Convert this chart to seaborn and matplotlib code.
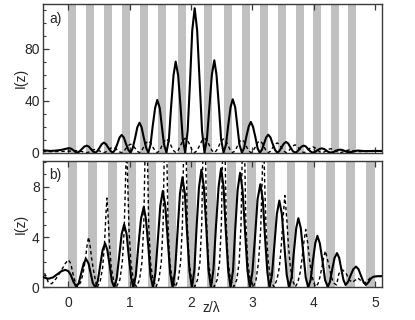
import matplotlib

matplotlib.use("Agg")
import matplotlib.pyplot as plt
import seaborn as sns
from matplotlib.ticker import MultipleLocator


# layer positions (left edge of each grey layer), in units of z/lambda
TOP_STRIPES = [0.0, 0.293, 0.575, 0.868, 1.161, 1.466, 1.796, 2.215, 2.541, 2.838,
               3.127, 3.425, 3.713, 3.995, 4.284, 4.565]
TOP_STRIPE_WIDTH = 0.13
BOTTOM_STRIPES = [0.0, 0.324, 0.647, 0.971, 1.294, 1.618, 1.942, 2.265, 2.589, 2.912,
                  3.236, 3.560, 3.883, 4.207, 4.530, 4.854]
BOTTOM_STRIPE_WIDTH = 0.14

# (z, I)
TOP_SOLID = [
    (-0.42, 1.8), (-0.35, 1.5), (-0.29, 1.3), (-0.2, 1.6), (-0.13, 2.0), (-0.06, 2.7), (0.0, 3.4),
    (0.04, 3.2), (0.08, 2.0), (0.11, 0.8), (0.14, 0.0),
    (0.18, 0.8), (0.22, 2.7), (0.26, 4.6), (0.30, 5.4), (0.335, 4.6), (0.37, 2.7), (0.405, 0.8), (0.44, 0.0),
    (0.475, 1.2), (0.51, 3.9), (0.545, 6.5), (0.58, 7.7), (0.615, 6.5), (0.65, 3.9), (0.69, 1.2), (0.725, 0.0),
    (0.76, 2.0), (0.80, 6.8), (0.835, 11.6), (0.87, 13.6), (0.905, 11.6), (0.94, 6.8), (0.98, 2.0), (1.015, 0.0),
    (1.05, 3.5), (1.09, 11.5), (1.125, 19.5), (1.16, 23.0), (1.195, 19.5), (1.23, 11.5), (1.27, 3.5), (1.305, 0.0),
    (1.34, 6.1), (1.375, 20.2), (1.415, 34.4), (1.45, 40.5), (1.49, 34.4), (1.525, 20.2), (1.56, 6.1), (1.60, 0.0),
    (1.64, 10.5), (1.675, 35.0), (1.715, 59.5), (1.75, 70.0), (1.79, 59.5), (1.83, 35.0), (1.865, 10.5), (1.905, 0.0),
    (1.945, 16.6), (1.985, 55.5), (2.02, 94.0), (2.06, 111.0), (2.10, 94.0), (2.14, 55.5), (2.18, 16.6), (2.22, 0.0),
    (2.26, 10.6), (2.30, 35.5), (2.34, 60.0), (2.38, 71.0), (2.415, 60.0), (2.455, 35.5), (2.49, 10.6), (2.53, 0.0),
    (2.57, 6.1), (2.605, 20.5), (2.645, 35.0), (2.68, 41.0), (2.72, 35.0), (2.755, 20.5), (2.79, 6.1), (2.83, 0.0),
    (2.865, 3.5), (2.90, 11.8), (2.94, 20.0), (2.975, 23.6), (3.01, 20.0), (3.05, 11.8), (3.085, 3.5), (3.12, 0.0),
    (3.155, 2.1), (3.19, 6.9), (3.225, 11.7), (3.26, 13.8), (3.295, 11.7), (3.33, 6.9), (3.37, 2.1), (3.405, 0.0),
    (3.44, 1.2), (3.475, 4.1), (3.515, 7.0), (3.55, 8.2), (3.585, 7.0), (3.62, 4.1), (3.66, 1.2), (3.695, 0.0),
    (3.73, 0.8), (3.765, 2.7), (3.80, 4.6), (3.84, 5.4), (3.875, 4.6), (3.91, 2.7), (3.95, 0.8), (3.985, 0.0),
    (4.02, 0.5), (4.055, 1.7), (4.095, 2.8), (4.13, 3.3), (4.17, 2.8), (4.205, 1.7), (4.24, 0.5), (4.28, 0.1),
    (4.32, 0.4), (4.355, 1.2), (4.39, 2.0), (4.43, 2.3), (4.47, 2.0), (4.505, 1.3), (4.54, 0.6), (4.58, 0.3),
    (4.63, 0.6), (4.68, 1.3), (4.72, 1.6), (4.77, 1.4), (4.82, 1.2), (4.90, 1.2), (5.00, 1.3), (5.12, 1.3),
]

TOP_DASHED = [
    (-0.42, 0.9), (-0.25, 0.7), (-0.1, 0.9), (0.0, 1.1), (0.05, 1.3), (0.10, 1.45), (0.15, 1.5),
    (0.19, 1.3), (0.23, 0.75), (0.265, 0.25), (0.30, 0.0),
    (0.335, 0.4), (0.37, 1.25), (0.405, 2.1), (0.44, 2.5), (0.475, 2.1), (0.51, 1.25), (0.545, 0.4), (0.58, 0.0),
    (0.615, 0.6), (0.65, 2.0), (0.69, 3.4), (0.725, 4.0), (0.76, 3.4), (0.80, 2.0), (0.835, 0.6), (0.87, 0.0),
    (0.905, 1.0), (0.94, 3.25), (0.98, 5.5), (1.015, 6.5), (1.05, 5.5), (1.09, 3.25), (1.125, 1.0), (1.16, 0.0),
    (1.195, 1.35), (1.23, 4.5), (1.27, 7.65), (1.305, 9.0), (1.34, 7.65), (1.375, 4.5), (1.415, 1.35), (1.45, 0.0),
    (1.49, 1.6), (1.525, 5.25), (1.565, 8.9), (1.60, 10.5), (1.64, 8.9), (1.675, 5.25), (1.715, 1.6), (1.75, 0.0),
    (1.79, 1.65), (1.83, 5.5), (1.865, 9.35), (1.905, 11.0), (1.945, 9.35), (1.985, 5.5), (2.02, 1.65), (2.06, 0.0),
    (2.10, 1.65), (2.14, 5.5), (2.18, 9.35), (2.22, 11.0), (2.26, 9.35), (2.30, 5.5), (2.34, 1.65), (2.38, 0.0),
    (2.415, 1.6), (2.455, 5.25), (2.49, 8.9), (2.53, 10.5), (2.57, 8.9), (2.605, 5.25), (2.645, 1.6), (2.68, 0.0),
    (2.72, 1.5), (2.755, 5.0), (2.79, 8.5), (2.83, 10.0), (2.865, 8.5), (2.90, 5.0), (2.94, 1.5), (2.975, 0.0),
    (3.01, 1.35), (3.05, 4.5), (3.085, 7.65), (3.12, 9.0), (3.155, 7.65), (3.19, 4.5), (3.225, 1.35), (3.26, 0.0),
    (3.295, 1.1), (3.33, 3.75), (3.37, 6.4), (3.405, 7.5), (3.44, 6.4), (3.475, 3.75), (3.515, 1.1), (3.55, 0.0),
    (3.585, 0.9), (3.62, 3.0), (3.66, 5.1), (3.695, 6.0), (3.73, 5.1), (3.765, 3.0), (3.80, 0.9), (3.84, 0.0),
    (3.875, 0.7), (3.91, 2.25), (3.95, 3.8), (3.985, 4.5), (4.02, 3.8), (4.055, 2.25), (4.095, 0.7), (4.13, 0.0),
    (4.17, 0.45), (4.205, 1.5), (4.24, 2.55), (4.28, 3.0), (4.32, 2.55), (4.355, 1.5), (4.39, 0.5), (4.43, 0.1),
    (4.47, 0.4), (4.505, 1.1), (4.54, 1.7), (4.58, 2.0), (4.62, 1.8), (4.66, 1.3), (4.70, 0.9), (4.75, 0.8),
    (4.85, 0.9), (5.0, 1.0), (5.12, 1.0),
]

BOTTOM_SOLID = [
    (-0.42, 0.85), (-0.37, 0.75), (-0.32, 0.70), (-0.25, 0.8), (-0.18, 1.05), (-0.11, 1.3), (-0.05, 1.4),
    (0.0, 1.3), (0.04, 1.0), (0.08, 0.5), (0.13, 0.05),
    (0.17, 0.35), (0.21, 1.13), (0.25, 1.9), (0.29, 2.26), (0.33, 1.9), (0.365, 1.13), (0.40, 0.35), (0.44, 0.0),
    (0.48, 0.5), (0.52, 1.75), (0.56, 3.0), (0.60, 3.5), (0.635, 3.0), (0.675, 1.75), (0.71, 0.5), (0.75, 0.0),
    (0.79, 0.75), (0.83, 2.5), (0.87, 4.25), (0.91, 5.0), (0.95, 4.25), (0.985, 2.5), (1.025, 0.75), (1.06, 0.0),
    (1.10, 0.95), (1.14, 3.2), (1.185, 5.45), (1.23, 6.4), (1.265, 5.45), (1.305, 3.2), (1.34, 0.95), (1.38, 0.0),
    (1.42, 1.15), (1.46, 3.8), (1.50, 6.5), (1.54, 7.66), (1.58, 6.5), (1.62, 3.8), (1.66, 1.15), (1.70, 0.0),
    (1.74, 1.3), (1.78, 4.4), (1.82, 7.45), (1.86, 8.75), (1.90, 7.45), (1.935, 4.4), (1.975, 1.3), (2.015, 0.0),
    (2.055, 1.4), (2.09, 4.7), (2.13, 7.95), (2.17, 9.35), (2.21, 7.95), (2.25, 4.7), (2.285, 1.4), (2.325, 0.0),
    (2.365, 1.4), (2.405, 4.7), (2.45, 8.0), (2.49, 9.45), (2.53, 8.0), (2.565, 4.7), (2.605, 1.4), (2.645, 0.0),
    (2.685, 1.35), (2.72, 4.55), (2.76, 7.75), (2.80, 9.1), (2.84, 7.75), (2.88, 4.55), (2.92, 1.35), (2.96, 0.0),
    (3.00, 1.2), (3.045, 4.1), (3.085, 7.0), (3.13, 8.2), (3.17, 7.0), (3.205, 4.1), (3.245, 1.2), (3.28, 0.0),
    (3.32, 1.0), (3.36, 3.45), (3.40, 5.85), (3.44, 6.9), (3.48, 5.85), (3.52, 3.45), (3.56, 1.0), (3.60, 0.0),
    (3.64, 0.8), (3.675, 2.75), (3.715, 4.7), (3.75, 5.5), (3.79, 4.7), (3.83, 2.75), (3.87, 0.8), (3.91, 0.0),
    (3.95, 0.6), (3.985, 2.05), (4.025, 3.5), (4.06, 4.1), (4.10, 3.5), (4.145, 2.05), (4.185, 0.6), (4.23, 0.05),
    (4.265, 0.45), (4.30, 1.4), (4.34, 2.35), (4.38, 2.73), (4.415, 2.35), (4.45, 1.45), (4.485, 0.6), (4.52, 0.2),
    (4.56, 0.45), (4.60, 0.95), (4.645, 1.45), (4.69, 1.66), (4.73, 1.45), (4.77, 0.95), (4.81, 0.45), (4.85, 0.2),
    (4.89, 0.4), (4.93, 0.7), (4.97, 0.85), (5.05, 0.9), (5.12, 0.9),
]

BOTTOM_DASHED = [
    (-0.42, 1.6), (-0.37, 0.9), (-0.32, 0.35), (-0.27, 0.3), (-0.2, 0.7), (-0.12, 1.3), (-0.05, 1.9),
    (0.0, 2.2), (0.04, 1.9), (0.08, 1.0), (0.12, 0.3), (0.15, 0.05),
    (0.20, 0.4), (0.24, 1.1), (0.28, 2.3), (0.31, 3.5), (0.33, 4.0), (0.35, 3.5), (0.38, 2.3), (0.42, 1.1),
    (0.45, 0.4), (0.47, 0.0),
    (0.52, 0.5), (0.56, 1.6), (0.59, 3.5), (0.61, 5.5), (0.63, 7.1), (0.65, 5.5), (0.67, 3.5), (0.70, 1.6),
    (0.74, 0.5), (0.78, 0.0),
    (0.84, 0.6), (0.88, 2.0), (0.91, 4.5), (0.93, 8.0), (0.95, 12.0), (0.97, 8.0), (0.99, 4.5), (1.02, 2.0),
    (1.06, 0.6), (1.11, 0.05),
    (1.16, 0.6), (1.20, 2.0), (1.23, 5.0), (1.25, 10.5), (1.27, 17.0), (1.29, 10.5), (1.31, 5.0), (1.34, 2.0),
    (1.38, 0.6), (1.43, 0.05),
    (1.475, 0.6), (1.515, 2.0), (1.545, 5.0), (1.565, 11.0), (1.585, 22.0), (1.605, 11.0), (1.625, 5.0),
    (1.655, 2.0), (1.695, 0.6), (1.745, 0.05),
    (1.79, 0.6), (1.83, 2.0), (1.86, 5.0), (1.88, 11.0), (1.90, 25.0), (1.92, 11.0), (1.94, 5.0), (1.97, 2.0),
    (2.01, 0.6), (2.06, 0.05),
    (2.105, 0.6), (2.145, 2.0), (2.175, 5.0), (2.195, 11.0), (2.215, 26.0), (2.235, 11.0), (2.255, 5.0),
    (2.285, 2.0), (2.325, 0.6), (2.375, 0.05),
    (2.425, 0.6), (2.465, 2.0), (2.495, 5.0), (2.515, 11.0), (2.535, 25.0), (2.555, 11.0), (2.575, 5.0),
    (2.605, 2.0), (2.645, 0.6), (2.695, 0.05),
    (2.745, 0.6), (2.785, 2.0), (2.815, 5.0), (2.835, 10.5), (2.855, 21.0), (2.875, 10.5), (2.895, 5.0),
    (2.925, 2.0), (2.965, 0.6), (3.015, 0.05),
    (3.06, 0.6), (3.10, 2.0), (3.135, 4.5), (3.16, 8.5), (3.18, 13.0), (3.20, 8.5), (3.225, 4.5), (3.26, 2.0),
    (3.30, 0.6), (3.35, 0.05),
    (3.40, 0.6), (3.44, 1.6), (3.47, 3.2), (3.50, 5.5), (3.53, 7.3), (3.56, 5.5), (3.59, 3.2), (3.62, 1.6),
    (3.66, 0.5), (3.70, 0.05),
    (3.74, 0.4), (3.78, 1.2), (3.81, 2.3), (3.84, 3.6), (3.87, 4.6), (3.90, 3.6), (3.93, 2.3), (3.96, 1.2),
    (4.00, 0.4), (4.03, 0.05),
    (4.07, 0.3), (4.10, 0.8), (4.13, 1.5), (4.16, 2.3), (4.19, 2.9), (4.22, 2.3), (4.26, 1.5), (4.29, 0.8),
    (4.33, 0.35), (4.37, 0.2), (4.39, 0.6),
    (4.41, 1.1), (4.47, 1.4), (4.53, 1.1), (4.58, 0.6), (4.63, 0.4), (4.68, 0.6), (4.72, 0.75), (4.78, 0.5),
    (4.82, 0.35), (4.87, 0.5), (4.93, 0.8), (5.0, 0.88), (5.12, 0.88),
]

X_TICKS = [0, 1, 2, 3, 4, 5]
TOP_YTICKS = [0, 40, 80]
BOTTOM_YTICKS = [0, 4, 8]

STRIPE_COLOR = "#c0c0c0"
SPINE_COLOR = "#3a3a3a"
FONT_SIZE = 10


def split(points):
    z = [p[0] for p in points]
    i = [p[1] for p in points]
    return z, i


def draw_panel(ax, stripes, width, solid, dashed, label):
    for s in stripes:
        ax.axvspan(s, s + width, color=STRIPE_COLOR, lw=0, zorder=0)

    z, i = split(dashed)
    sns.lineplot(x=z, y=i, ax=ax, color="black", lw=1.0, ls=(0, (2.5, 2.0)),
                 estimator=None, sort=False, zorder=2)
    z, i = split(solid)
    sns.lineplot(x=z, y=i, ax=ax, color="black", lw=1.5, estimator=None, sort=False, zorder=3)

    ax.set_xlim(-0.41, 5.11)
    ax.set_xticks(X_TICKS)
    ax.tick_params(axis="both", which="both", direction="in", top=True, right=False,
                   color=SPINE_COLOR, labelsize=FONT_SIZE)
    ax.tick_params(axis="both", which="major", length=4, width=0.9)
    ax.tick_params(axis="y", which="minor", length=2.2, width=0.8)
    ax.tick_params(axis="y", pad=2.5)
    ax.tick_params(axis="x", pad=6)
    for sp in ax.spines.values():
        sp.set_color(SPINE_COLOR)
        sp.set_linewidth(1.0)
    ax.set_ylabel("I(z)", fontsize=FONT_SIZE)
    ax.yaxis.set_label_coords(-0.045, 0.5)
    ax.text(0.018, 0.945, label, transform=ax.transAxes, va="top", ha="left", fontsize=FONT_SIZE)


def main():
    sns.set_theme(style="ticks")
    plt.rcParams["font.family"] = ["Liberation Sans", "DejaVu Sans"]

    fig = plt.figure(figsize=(4.15, 3.2), dpi=100)
    ax_top = fig.add_axes([0.104, 0.523, 0.816, 0.465])
    ax_bot = fig.add_axes([0.104, 0.1016, 0.816, 0.396])

    draw_panel(ax_top, TOP_STRIPES, TOP_STRIPE_WIDTH, TOP_SOLID, TOP_DASHED, "a)")
    ax_top.set_ylim(0, 114.4)
    ax_top.set_yticks(TOP_YTICKS)
    ax_top.yaxis.set_minor_locator(MultipleLocator(10))
    ax_top.set_xticklabels([])
    ax_top.set_xlabel("")

    draw_panel(ax_bot, BOTTOM_STRIPES, BOTTOM_STRIPE_WIDTH, BOTTOM_SOLID, BOTTOM_DASHED, "b)")
    ax_bot.set_ylim(0, 10.06)
    ax_bot.set_yticks(BOTTOM_YTICKS)
    ax_bot.yaxis.set_minor_locator(MultipleLocator(1))
    ax_bot.set_xlabel("z/λ", fontsize=FONT_SIZE)
    ax_bot.xaxis.set_label_coords(0.496, -0.11)

    fig.savefig("out.png", dpi=100)
    plt.close(fig)


if __name__ == "__main__":
    main()
